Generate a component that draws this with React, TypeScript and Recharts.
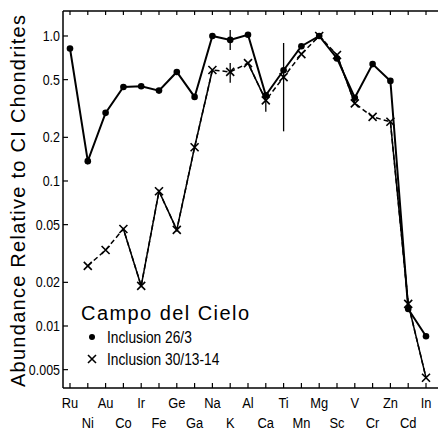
import React from 'react';
import { ComposedChart, Line, Scatter, XAxis, YAxis, ErrorBar } from 'recharts';

const elements = ["Ru","Ni","Au","Co","Ir","Fe","Ge","Ga","Na","K","Al","Ca","Ti","Mn","Mg","Sc","V","Cr","Zn","Cd","In"];
const inclusion26_3 = [0.82,0.137,0.295,0.445,0.45,0.42,0.565,0.38,1.0,0.94,1.02,0.39,0.58,0.85,1.0,0.70,0.375,0.64,0.49,0.0131,0.0085];
const inclusion30_13_14 = [null,0.026,0.0334,0.0467,0.0189,0.085,0.046,0.171,0.583,0.565,0.65,0.36,0.52,0.75,1.0,0.74,0.343,0.277,0.256,0.0142,0.0044];
const solidCrossSegments = ["Co","Ir","Fe","Ge","Ga","Na","Al","Ca","Sc","V","Zn","Cd","In"];
const yTicks = [0.005,0.01,0.02,0.05,0.1,0.2,0.5,1.0];
const yTickLabels = ["0.005","0.01","0.02","0.05","0.1","0.2","0.5","1.0"];
const errorElements26 = ["K","Ti"];
const errorLow26 = [0.14,0.36];
const errorHigh26 = [0.16,0.315];
const errorElements30 = ["K","Ca"];
const errorLow30 = [0.09,0.06];
const errorHigh30 = [0.085,0.045];

const SANS = "'Liberation Sans','Arial',sans-serif";
const NARROW_SCALE = 0.86;

const data = elements.map((el, i) => ({
  i,
  el,
  a: inclusion26_3[i],
  b: inclusion30_13_14[i],
  bs: solidCrossSegments.includes(el) ? inclusion30_13_14[i] : null,
}));

const errA = errorElements26.map((el, k) => {
  const i = elements.indexOf(el);
  return { i, v: inclusion26_3[i], e: [errorLow26[k], errorHigh26[k]] };
});
const errB = errorElements30.map((el, k) => {
  const i = elements.indexOf(el);
  return { i, v: inclusion30_13_14[i], e: [errorLow30[k], errorHigh30[k]] };
});

const NText = ({ x, y, size, anchor, children }: any) => (
  <text
    transform={`translate(${x},${y}) scale(${NARROW_SCALE},1)`}
    x={0}
    y={0}
    textAnchor={anchor || 'start'}
    fontFamily={SANS}
    fontSize={size}
    fill="#000"
  >
    {children}
  </text>
);

const BottomTick = (p: any) => {
  const i = p.payload.value;
  const row = i % 2;
  return (
    <g>
      <line x1={p.x} x2={p.x} y1={p.y} y2={p.y - 5} stroke="#000" strokeWidth={1.2} />
      <NText x={p.x} y={p.y + (row ? 40 : 20)} size={15} anchor="middle">
        {elements[i]}
      </NText>
    </g>
  );
};
const TopTick = (p: any) => (
  <line x1={p.x} x2={p.x} y1={p.y} y2={p.y + 4} stroke="#000" strokeWidth={1.2} />
);
const LeftTick = (p: any) => {
  const idx = yTicks.indexOf(p.payload.value);
  return (
    <g>
      <line x1={p.x} x2={p.x + 5} y1={p.y} y2={p.y} stroke="#000" strokeWidth={1.2} />
      <NText x={p.x - 3} y={p.y + 5} size={14.5} anchor="end">
        {yTickLabels[idx]}
      </NText>
    </g>
  );
};
const RightTick = (p: any) => (
  <line x1={p.x} x2={p.x - 4} y1={p.y} y2={p.y} stroke="#000" strokeWidth={1.2} />
);

const CrossDot = (p: any) => {
  const { cx, cy } = p;
  if (cx == null || cy == null || isNaN(cy)) return <g key={p.index} />;
  return (
    <path
      key={p.index}
      d={`M${cx - 4},${cy - 4}L${cx + 4},${cy + 4}M${cx + 4},${cy - 4}L${cx - 4},${cy + 4}`}
      stroke="#000"
      strokeWidth={1.6}
      fill="none"
    />
  );
};
const FilledDot = (p: any) => {
  const { cx, cy } = p;
  if (cx == null || cy == null || isNaN(cy)) return <g key={p.index} />;
  return <circle key={p.index} cx={cx} cy={cy} r={3.3} fill="#000" stroke="none" />;
};
const NoShape = () => <g />;

export default function App() {
  return (
    <div style={{ position: 'absolute', left: 0, top: 0, width: 438, height: 430, background: '#fff' }}>
      <ComposedChart width={438} height={430} data={data} margin={{ top: 0, right: 0, bottom: 0, left: 3 }}>
        <XAxis
          xAxisId="bottom"
          dataKey="i"
          type="number"
          domain={[-0.393, 20.674]}
          allowDataOverflow
          ticks={elements.map((_, i) => i)}
          interval={0}
          tickSize={0}
          tickMargin={0}
          tick={BottomTick}
          axisLine={{ stroke: '#000', strokeWidth: 1.5 }}
          tickLine={false}
          height={42}
        />
        <XAxis
          xAxisId="top"
          orientation="top"
          dataKey="i"
          type="number"
          domain={[-0.393, 20.674]}
          allowDataOverflow
          ticks={elements.map((_, i) => i)}
          interval={0}
          tickSize={0}
          tickMargin={0}
          tick={TopTick}
          axisLine={{ stroke: '#000', strokeWidth: 1.5 }}
          tickLine={false}
          height={11}
        />
        <YAxis
          yAxisId="left"
          scale="log"
          type="number"
          domain={[0.003736, 1.487]}
          allowDataOverflow
          ticks={yTicks}
          interval={0}
          tickSize={0}
          tickMargin={0}
          tick={LeftTick}
          axisLine={{ stroke: '#000', strokeWidth: 1.5 }}
          tickLine={false}
          width={60}
        />
        <YAxis
          yAxisId="right"
          orientation="right"
          scale="log"
          type="number"
          domain={[0.003736, 1.487]}
          allowDataOverflow
          ticks={yTicks}
          interval={0}
          tickSize={0}
          tickMargin={0}
          tick={RightTick}
          axisLine={false}
          tickLine={false}
          width={0}
        />
        <Line
          xAxisId="bottom"
          yAxisId="left"
          dataKey="b"
          stroke="#000"
          strokeWidth={1.5}
          strokeDasharray="5 3"
          dot={CrossDot}
          isAnimationActive={false}
          connectNulls={false}
        />
        <Line
          xAxisId="bottom"
          yAxisId="left"
          dataKey="bs"
          stroke="#000"
          strokeWidth={1.5}
          dot={false}
          isAnimationActive={false}
          connectNulls={false}
        />
        <Line
          xAxisId="bottom"
          yAxisId="left"
          dataKey="a"
          stroke="#000"
          strokeWidth={2}
          dot={FilledDot}
          isAnimationActive={false}
        />
        <Scatter xAxisId="bottom" yAxisId="left" data={errA} dataKey="v" shape={NoShape} isAnimationActive={false}>
          <ErrorBar dataKey="e" direction="y" width={0} stroke="#000" strokeWidth={1.3} />
        </Scatter>
        <Scatter xAxisId="bottom" yAxisId="left" data={errB} dataKey="v" shape={NoShape} isAnimationActive={false}>
          <ErrorBar dataKey="e" direction="y" width={0} stroke="#000" strokeWidth={1.3} />
        </Scatter>
      </ComposedChart>
      <svg
        width={438}
        height={430}
        style={{ position: 'absolute', left: 0, top: 0, pointerEvents: 'none' }}
      >
        <text
          transform="translate(25,201) rotate(-90)"
          textAnchor="middle"
          fontFamily={SANS}
          fontSize={20}
          textLength={372}
          lengthAdjust="spacing"
          fill="#000"
        >
          Abundance Relative to CI Chondrites
        </text>
        <text x={81} y={320} fontFamily={SANS} fontSize={20} textLength={168} lengthAdjust="spacing" fill="#000">
          Campo del Cielo
        </text>
        <circle cx={92} cy={337} r={3} fill="#000" />
        <NText x={107} y={343} size={16}>Inclusion 26/3</NText>
        <path d="M88,355L96,363M96,355L88,363" stroke="#000" strokeWidth={1.6} />
        <NText x={107} y={365} size={16}>Inclusion 30/13-14</NText>
      </svg>
    </div>
  );
}
